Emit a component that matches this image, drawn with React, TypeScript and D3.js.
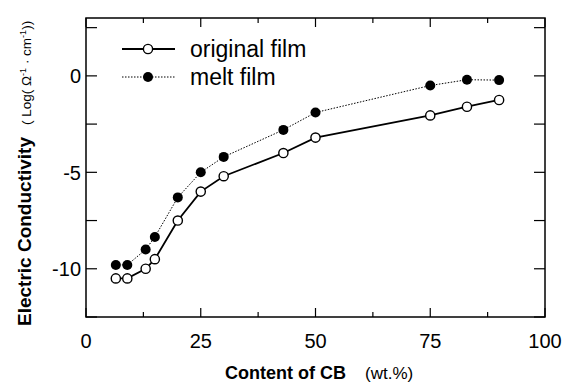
import React, { useRef, useEffect } from 'react';
import * as d3 from 'd3';

// CB content (wt.%)
const cbContent = [6.5, 9, 13, 15, 20, 25, 30, 43, 50, 75, 83, 90];
// log conductivity
const originalFilm = [-10.5, -10.5, -10.0, -9.5, -7.5, -6.0, -5.2, -4.0, -3.2, -2.05, -1.6, -1.25];
const meltFilm = [-9.8, -9.8, -9.0, -8.35, -6.3, -5.0, -4.2, -2.8, -1.9, -0.5, -0.2, -0.22];

const xTicks = [0, 25, 50, 75, 100];
const xMinorTicks = [12.5, 37.5, 62.5, 87.5];
const yTicks = [0, -5, -10];
const yMinorTicks = [2.5, -2.5, -7.5, -12.5];

const App = () => {
    const width = 567;
    const height = 383;
    const svgRef = useRef<SVGSVGElement>(null);

    useEffect(() => {
        const svg = d3.select(svgRef.current);
        svg.selectAll('*').remove();

        const left = 86, right = 545, top = 18, bottom = 317;
        const x = d3.scaleLinear().domain([0, 100]).range([left, right]);
        const y = d3.scaleLinear().domain([-12.5, 3]).range([bottom, top]);
        const font = '"Liberation Sans", Arial, Helvetica, sans-serif';

        // frame
        svg.append('rect')
            .attr('x', left).attr('y', top)
            .attr('width', right - left).attr('height', bottom - top)
            .attr('fill', 'none').attr('stroke', '#000').attr('stroke-width', 1.5);

        // x ticks (inward, bottom and top)
        const xt = [...xTicks.map(v => ({ v, len: 9 })), ...xMinorTicks.map(v => ({ v, len: 5 }))];
        xt.forEach(t => {
            svg.append('line').attr('x1', x(t.v)).attr('x2', x(t.v))
                .attr('y1', bottom).attr('y2', bottom - t.len)
                .attr('stroke', '#000').attr('stroke-width', 1.2);
            svg.append('line').attr('x1', x(t.v)).attr('x2', x(t.v))
                .attr('y1', top).attr('y2', top + t.len)
                .attr('stroke', '#000').attr('stroke-width', 1.2);
        });
        const yt = [...yTicks.map(v => ({ v, len: 11 })), ...yMinorTicks.map(v => ({ v, len: 11 }))];
        yt.forEach(t => {
            svg.append('line').attr('x1', left).attr('x2', left + t.len)
                .attr('y1', y(t.v)).attr('y2', y(t.v))
                .attr('stroke', '#000').attr('stroke-width', 1.2);
            svg.append('line').attr('x1', right).attr('x2', right - t.len)
                .attr('y1', y(t.v)).attr('y2', y(t.v))
                .attr('stroke', '#000').attr('stroke-width', 1.2);
        });

        // tick labels
        svg.selectAll('.xlab').data(xTicks).enter().append('text')
            .attr('x', d => x(d)).attr('y', 348)
            .attr('text-anchor', 'middle')
            .style('font-family', font).style('font-size', '20px')
            .text(d => d);
        svg.selectAll('.ylab').data(yTicks).enter().append('text')
            .attr('x', 81).attr('y', d => y(d)).attr('dy', '0.36em')
            .attr('text-anchor', 'end')
            .style('font-family', font).style('font-size', '20px')
            .text(d => d);

        // axis titles
        const xt2 = svg.append('text').attr('x', 225).attr('y', 379)
            .style('font-family', font);
        xt2.append('tspan').style('font-weight', 'bold').style('font-size', '18px').text('Content of CB');
        xt2.append('tspan').attr('x', 365).style('font-size', '17px').text('(wt.%)');

        const yt2 = svg.append('text')
            .attr('transform', `translate(31,326) rotate(-90)`)
            .style('font-family', font);
        yt2.append('tspan').style('font-weight', 'bold').style('font-size', '19px').text('Electric Conductivity');
        yt2.append('tspan').attr('x', 201).style('font-size', '13.5px').text('( Log( Ω');
        yt2.append('tspan').attr('dy', -5).style('font-size', '9px').text('-1');
        yt2.append('tspan').attr('dy', 5).style('font-size', '13.5px').text(' · cm');
        yt2.append('tspan').attr('dy', -5).style('font-size', '9px').text('-1');
        yt2.append('tspan').attr('dy', 5).style('font-size', '13.5px').text('))');

        const line = d3.line<number>()
            .x((d, i) => x(cbContent[i]))
            .y(d => y(d));

        svg.append('path').attr('d', line(meltFilm))
            .attr('fill', 'none').attr('stroke', '#000').attr('stroke-width', 1)
            .attr('stroke-dasharray', '1.5,1.5');
        svg.append('path').attr('d', line(originalFilm))
            .attr('fill', 'none').attr('stroke', '#000').attr('stroke-width', 1.8);

        svg.selectAll('.melt').data(meltFilm).enter().append('circle')
            .attr('cx', (d, i) => x(cbContent[i])).attr('cy', d => y(d))
            .attr('r', 5).attr('fill', '#000');
        svg.selectAll('.orig').data(originalFilm).enter().append('circle')
            .attr('cx', (d, i) => x(cbContent[i])).attr('cy', d => y(d))
            .attr('r', 4.6).attr('fill', '#fff').attr('stroke', '#000').attr('stroke-width', 1.4);

        // legend
        const legend = [
            { name: 'original film', fill: '#fff', dash: null, sw: 1.8, yy: 49 },
            { name: 'melt film', fill: '#000', dash: '1.5,1.5', sw: 1, yy: 77 },
        ];
        legend.forEach(l => {
            svg.append('line').attr('x1', 122).attr('x2', 175).attr('y1', l.yy).attr('y2', l.yy)
                .attr('stroke', '#000').attr('stroke-width', l.sw)
                .attr('stroke-dasharray', l.dash);
            svg.append('circle').attr('cx', 148).attr('cy', l.yy).attr('r', l.fill === '#fff' ? 4.6 : 5)
                .attr('fill', l.fill).attr('stroke', '#000').attr('stroke-width', l.fill === '#fff' ? 1.4 : 0);
            svg.append('text').attr('x', 190).attr('y', l.yy).attr('dy', '0.36em')
                .style('font-family', font).style('font-size', '23px')
                .text(l.name);
        });
    }, []);

    return (
        <svg ref={svgRef} width={width} height={height}
            style={{ position: 'absolute', left: 0, top: 0, background: '#fff' }}></svg>
    );
};

export default App;
